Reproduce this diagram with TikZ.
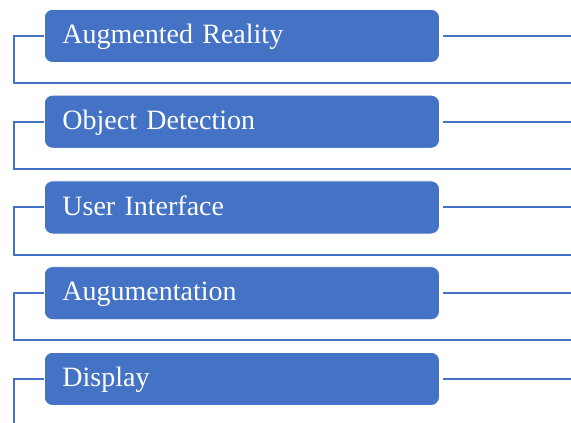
\documentclass[tikz,border=0pt]{standalone}
\usepackage{fontspec}
\setmainfont{Liberation Serif}
\definecolor{accblue}{HTML}{4472C4}
\begin{document}
\begin{tikzpicture}[x=1pt,y=1pt,
  itembox/.style={draw=white, line width=0.8pt, fill=accblue, rounded corners=8pt,
    minimum width=395pt, minimum height=53pt, inner xsep=18pt, inner ysep=0pt,
    text width=359pt, text height=21pt, text depth=5.6pt, align=left,
    anchor=north west, text=white, font=\fontsize{28}{30}\selectfont},
  link/.style={draw=accblue, line width=2pt}]
\useasboundingbox (0,0) rectangle (571,-423);
\coordinate (redge) at (571,0);
\foreach \i/\t in {1/Augmented Reality,2/Object Detection,3/User Interface,4/Augumentation,5/Display}{
  \pgfmathsetmacro{\top}{9+85.75*(\i-1)}
  \node[itembox] (b\i) at (44,-\top) {\t};
  \coordinate (r\i) at (571,-\top-74);
}
\coordinate (bot) at (14,-423);
\foreach \i in {1,...,5}{
  \draw[link] ([xshift=3pt]b\i.east) -- (b\i.east -| redge);
}
\foreach \i in {1,...,4}{
  \draw[link] (b\i.west) -- ++(-30,0) |- (r\i);
}
\draw[link] (b5.west) -- ++(-30,0) -- (bot);
\end{tikzpicture}
\end{document}
